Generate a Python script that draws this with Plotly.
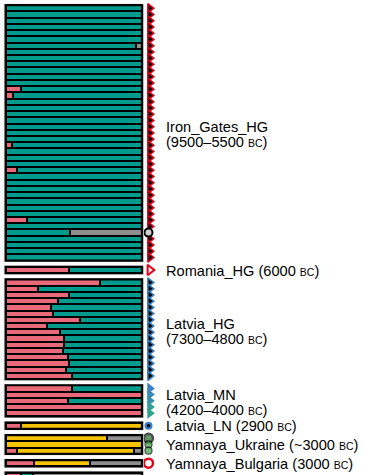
import plotly.graph_objects as go

# ---------------- data ----------------
group_names = ["Iron_Gates_HG", "Romania_HG", "Latvia_HG", "Latvia_MN",
               "Latvia_LN", "Yamnaya_Ukraine", "Yamnaya_Bulgaria", "next"]
group_label_lines = [
    ["Iron_Gates_HG", "(9500–5500 BC)"],
    ["Romania_HG (6000 BC)"],
    ["Latvia_HG", "(7300–4800 BC)"],
    ["Latvia_MN", "(4200–4000 BC)"],
    ["Latvia_LN (2900 BC)"],
    ["Yamnaya_Ukraine (~3000 BC)"],
    ["Yamnaya_Bulgaria (3000 BC)"],
    [],
]

# per-individual ancestry proportions (pink, teal, yellow, gray)
iron_gates_pink = [0, 0, 0, 0, 0, 0, 0, 0, 0, 0, 0, 0, 0, 0.11, 0.054, 0, 0, 0, 0, 0, 0,
                   0, 0.047, 0, 0, 0, 0.08, 0, 0, 0, 0, 0, 0, 0, 0.153, 0, 0, 0, 0, 0, 0]
iron_gates_gray = [0, 0, 0, 0, 0, 0, 0.042, 0, 0, 0, 0, 0, 0, 0, 0, 0, 0, 0, 0, 0, 0,
                   0, 0, 0, 0, 0, 0, 0, 0, 0, 0, 0, 0, 0, 0, 0, 0.53, 0, 0, 0, 0]
romania_pink = [0.464]
latvia_hg_pink = [0.691, 0.237, 0.464, 0.383, 0.333, 0.343, 0.543, 0.301,
                  0.40, 0.425, 0.425, 0.417, 0.454, 0.462, 0.442, 0.489]
latvia_mn_pink = [0.49, 1.0, 0.455, 1.0, 1.0]
latvia_ln_pink = [0.113]
latvia_ln_yellow = [0.887]
ukraine_pink = [0, 0, 0.084]
ukraine_yellow = [0.747, 1.0, 0.859]
ukraine_gray = [0.253, 0, 0.057]
bulgaria_pink = [0.207]
bulgaria_yellow = [0.41]
bulgaria_gray = [0.383]
next_pink = [0.108]
next_teal = [0.092]
next_gray = [0.80]

COL_PINK = "#e8697a"
COL_TEAL = "#009b8d"
COL_YELLOW = "#f7c300"
COL_GRAY = "#8e8e8e"

# ---------------- assemble rows ----------------
rows = []  # (group index, pink, teal, yellow, gray)
for p, g in zip(iron_gates_pink, iron_gates_gray):
    rows.append((0, p, 1 - p - g, 0, g))
for p in romania_pink:
    rows.append((1, p, 1 - p, 0, 0))
for p in latvia_hg_pink:
    rows.append((2, p, 1 - p, 0, 0))
for p in latvia_mn_pink:
    rows.append((3, p, 1 - p, 0, 0))
for p, yv in zip(latvia_ln_pink, latvia_ln_yellow):
    rows.append((4, p, 0, yv, 0))
for p, yv, g in zip(ukraine_pink, ukraine_yellow, ukraine_gray):
    rows.append((5, p, 0, yv, g))
for p, yv, g in zip(bulgaria_pink, bulgaria_yellow, bulgaria_gray):
    rows.append((6, p, 0, yv, g))
for p, t, g in zip(next_pink, next_teal, next_gray):
    rows.append((7, p, t, 0, g))

ypos = []
pos = 0
prev_g = 0
group_ranges = {}
for r in rows:
    if r[0] != prev_g:
        pos += 1  # one empty slot between groups
        prev_g = r[0]
    ypos.append(pos)
    group_ranges.setdefault(r[0], [pos, pos])
    group_ranges[r[0]][1] = pos
    pos += 1

def nz(v):
    return v if v > 1e-9 else None

fig = go.Figure()
for k, col in zip(range(1, 5), [COL_PINK, COL_TEAL, COL_YELLOW, COL_GRAY]):
    fig.add_trace(go.Bar(
        orientation="h", y=ypos, x=[nz(r[k]) for r in rows], width=1,
        marker=dict(color=col, line=dict(color="black", width=2)),
        showlegend=False, hoverinfo="skip"))

# ---------------- markers ----------------
MX = 1.06
ig_lo, ig_hi = group_ranges[0]
ig_tri = [y for i, y in enumerate(range(ig_lo, ig_hi + 1)) if i != 36]
fig.add_trace(go.Scatter(x=[MX] * len(ig_tri), y=ig_tri, mode="markers",
    marker=dict(symbol="triangle-right", size=8, color="black",
                line=dict(color="#e3001b", width=1.5)), cliponaxis=False, showlegend=False))
fig.add_trace(go.Scatter(x=[MX - 0.01], y=[ig_lo + 36], mode="markers",
    marker=dict(symbol="circle", size=8, color="#d0d0d0",
                line=dict(color="black", width=2)), cliponaxis=False, showlegend=False))
fig.add_trace(go.Scatter(x=[MX], y=[group_ranges[1][0]], mode="markers",
    marker=dict(symbol="triangle-right", size=9, color="#eeeeee",
                line=dict(color="#e3001b", width=2)), cliponaxis=False, showlegend=False))
lhg = list(range(group_ranges[2][0], group_ranges[2][1] + 1))
fig.add_trace(go.Scatter(x=[MX] * len(lhg), y=lhg, mode="markers",
    marker=dict(symbol="triangle-right", size=8, color="black",
                line=dict(color="#3b7fc4", width=1.5)), cliponaxis=False, showlegend=False))
lmn = list(range(group_ranges[3][0], group_ranges[3][1] + 1))
fig.add_trace(go.Scatter(x=[MX] * len(lmn), y=lmn, mode="markers",
    marker=dict(symbol="triangle-right", size=10,
                color=["#3a7fc6", "#3888b8", "#3592a8", "#339b98", "#32a28a"],
                line=dict(width=0)), cliponaxis=False, showlegend=False))
ln = group_ranges[4][0]
fig.add_trace(go.Scatter(x=[MX - 0.01], y=[ln], mode="markers",
    marker=dict(symbol="circle", size=8, color="#3b7fc4", line=dict(width=0)),
    cliponaxis=False, showlegend=False))
fig.add_trace(go.Scatter(x=[MX - 0.01], y=[ln], mode="markers",
    marker=dict(symbol="circle", size=3.5, color="black", line=dict(width=0)),
    cliponaxis=False, showlegend=False))
uk = list(range(group_ranges[5][0], group_ranges[5][1] + 1))
fig.add_trace(go.Scatter(x=[MX - 0.01] * 3, y=uk, mode="markers",
    marker=dict(symbol="circle", size=[9, 7, 7], color=["#1f6b2a", "#33a33c", "#33a33c"],
                line=dict(color="black", width=[2.5, 1.2, 1.2])),
    cliponaxis=False, showlegend=False))
bg = group_ranges[6][0]
fig.add_trace(go.Scatter(x=[MX - 0.01], y=[bg], mode="markers",
    marker=dict(symbol="circle", size=9, color="white", line=dict(color="#e3001b", width=2.5)),
    cliponaxis=False, showlegend=False))
nx = group_ranges[7][0]
fig.add_trace(go.Scatter(x=[MX - 0.01], y=[nx], mode="markers",
    marker=dict(symbol="line-ew", size=9, line=dict(color="#e3001b", width=2.5)),
    cliponaxis=False, showlegend=False))

# ---------------- group frames ----------------
shapes = []
for gi, (lo, hi) in group_ranges.items():
    shapes.append(dict(type="rect", xref="x", yref="y", x0=-0.012, x1=1.012,
                       y0=lo - 0.62, y1=hi + 0.62, line=dict(color="#c8c8c8", width=1.2),
                       fillcolor="rgba(0,0,0,0)"))
    shapes.append(dict(type="rect", xref="x", yref="y", x0=-0.002, x1=1.002,
                       y0=lo - 0.5, y1=hi + 0.5, line=dict(color="black", width=2.2),
                       fillcolor="rgba(0,0,0,0)"))

# ---------------- labels ----------------
def fmt(s):
    return s.replace("BC", "<span style='font-size:10.5px'>BC</span>")

annotations = []
for gi, lines in enumerate(group_label_lines):
    if not lines:
        continue
    lo, hi = group_ranges[gi]
    c = (lo + hi) / 2
    if len(lines) == 1:
        ys = [c + 0.1]
    else:
        ys = [c - 0.9, c + 1.5]
    for t, yy in zip(lines, ys):
        annotations.append(dict(x=1.166, y=yy, xref="x", yref="y", text=fmt(t),
                                showarrow=False, xanchor="left", yanchor="middle",
                                font=dict(family="Liberation Sans, Arial", size=14.6,
                                          color="black")))

fig.update_layout(
    width=366, height=475, margin=dict(l=0, r=0, t=0, b=0),
    barmode="stack", bargap=0,
    paper_bgcolor="white", plot_bgcolor="white",
    shapes=shapes, annotations=annotations,
    xaxis=dict(range=[-6 / 135.7, 360 / 135.7], visible=False, fixedrange=True),
    yaxis=dict(range=[74.9, -1.33], visible=False, fixedrange=True),
)
fig.write_html("out.html", config={"displayModeBar": False},
               post_script="document.body.style.margin='0';document.body.style.overflow='hidden';")
